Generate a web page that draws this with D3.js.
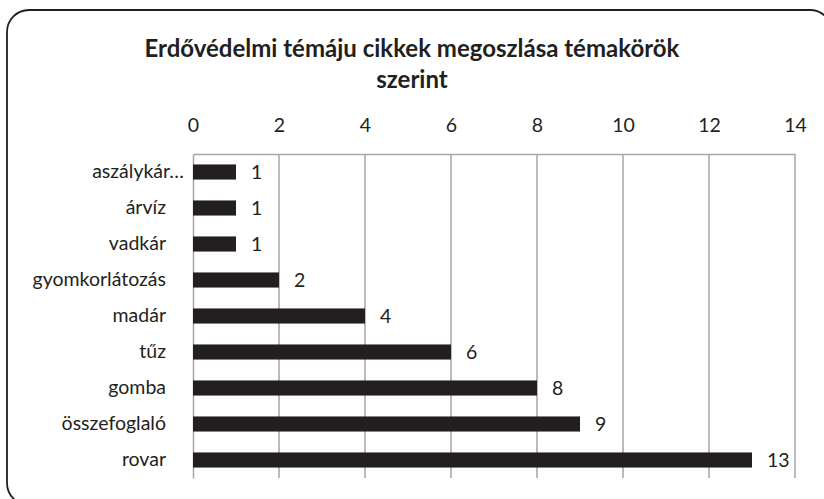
<!DOCTYPE html>
<html>
<head>
<meta charset="utf-8">
<script src="https://cdn.jsdelivr.net/npm/d3@7"></script>
<style>
  body { margin: 0; background: #fff; }
  svg text { font-family: Lato, "Open Sans", sans-serif; fill: #231f20; }
</style>
</head>
<body>
<svg id="chart" width="824" height="499"></svg>
<script>
// data
const categories = ['aszálykár…', 'árvíz', 'vadkár', 'gyomkorlátozás', 'madár', 'tűz', 'gomba', 'összefoglaló', 'rovar'];
const values = [1, 1, 1, 2, 4, 6, 8, 9, 13];
const xTicks = [0, 2, 4, 6, 8, 10, 12, 14];
const titleLines = ['Erdővédelmi témáju cikkek megoszlása témakörök', 'szerint'];

const data = categories.map((c, i) => ({ name: c, value: values[i] }));

const svg = d3.select('#chart');
const width = +svg.attr('width');
const height = +svg.attr('height');
const margin = { top: 154, right: 29, bottom: 21, left: 193 };
const fontSize = 19.5;

// outer frame
svg.append('rect')
  .attr('x', 7).attr('y', 10)
  .attr('width', 825).attr('height', 495)
  .attr('rx', 22).attr('ry', 22)
  .attr('fill', 'none')
  .attr('stroke', '#231f20')
  .attr('stroke-width', 1.8);

// title
svg.append('text')
  .attr('text-anchor', 'middle')
  .attr('font-weight', 'bold')
  .attr('font-size', 24)
  .selectAll('tspan')
  .data(titleLines)
  .join('tspan')
  .attr('x', 412)
  .attr('y', (d, i) => 57 + i * 31)
  .text(d => d);

const xScale = d3.scaleLinear()
  .domain([0, 14])
  .range([margin.left, width - margin.right]);

const yScale = d3.scaleBand()
  .domain(categories)
  .range([margin.top, height - margin.bottom])
  .paddingInner(0.58)
  .paddingOuter(0.29);

// vertical gridlines
svg.append('g')
  .selectAll('line')
  .data(xTicks.slice(1))
  .join('line')
  .attr('x1', d => xScale(d)).attr('x2', d => xScale(d))
  .attr('y1', margin.top).attr('y2', height - margin.bottom)
  .attr('stroke', '#a6a6a6')
  .attr('stroke-width', 1.5);

// top axis
const xAxis = svg.append('g')
  .attr('transform', `translate(0,${margin.top})`)
  .call(d3.axisTop(xScale).tickValues(xTicks).tickSize(0).tickPadding(22));
xAxis.select('.domain').attr('stroke', '#a6a6a6').attr('stroke-width', 1.5);
xAxis.selectAll('text').attr('font-size', fontSize).attr('font-family', null).attr('fill', null);

// left axis
const yAxis = svg.append('g')
  .attr('transform', `translate(${margin.left},0)`)
  .call(d3.axisLeft(yScale).tickSize(0).tickPadding(27));
yAxis.select('.domain').attr('stroke', '#a6a6a6').attr('stroke-width', 1.5);
yAxis.selectAll('text')
  .attr('font-size', fontSize).attr('font-family', null).attr('fill', null)
  .attr('dx', d => d.endsWith('…') ? 18 : 0);

// bars
svg.append('g')
  .selectAll('rect')
  .data(data)
  .join('rect')
  .attr('x', xScale(0))
  .attr('y', d => yScale(d.name))
  .attr('width', d => xScale(d.value) - xScale(0))
  .attr('height', yScale.bandwidth())
  .attr('fill', '#231f20');

// value labels
svg.append('g')
  .selectAll('text')
  .data(data)
  .join('text')
  .attr('x', d => xScale(d.value) + 15)
  .attr('y', d => yScale(d.name) + yScale.bandwidth() / 2)
  .attr('dy', '0.35em')
  .attr('font-size', fontSize)
  .text(d => d.value);
</script>
</body>
</html>
